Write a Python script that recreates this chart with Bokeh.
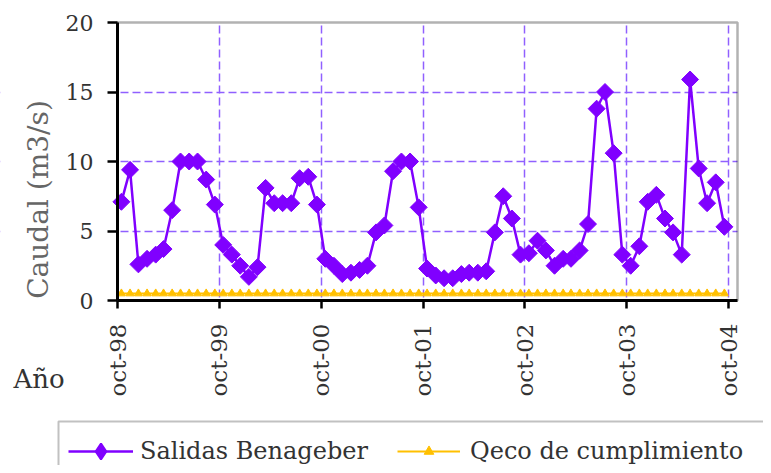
import math
from datetime import datetime

from bokeh.plotting import figure
from bokeh.models import (Range1d, FixedTicker, CustomJSTickFormatter, Legend,
                          LegendItem, Label, BoxAnnotation)
from bokeh.embed import file_html
from bokeh.resources import INLINE

# ---------------- data ----------------
# monthly values, oct-98 ... sep-04
salidas = [
    7.1, 9.4, 2.6, 3.0, 3.3, 3.7, 6.5, 10.0, 10.0, 10.0, 8.7, 6.9,   # oct-98 .. sep-99
    4.0, 3.3, 2.5, 1.7, 2.4, 8.1, 7.0, 7.0, 7.0, 8.8, 8.9, 6.9,      # oct-99 .. sep-00
    3.0, 2.5, 1.9, 2.0, 2.2, 2.5, 4.9, 5.4, 9.3, 10.0, 10.0, 6.7,    # oct-00 .. sep-01
    2.3, 1.8, 1.6, 1.6, 1.9, 2.0, 2.0, 2.1, 4.9, 7.5, 5.9, 3.3,      # oct-01 .. sep-02
    3.4, 4.3, 3.6, 2.5, 3.0, 3.0, 3.6, 5.5, 13.8, 15.0, 10.6, 3.3,   # oct-02 .. sep-03
    2.5, 3.9, 7.1, 7.6, 5.9, 4.9, 3.3, 15.9, 9.5, 7.0, 8.5, 5.3,     # oct-03 .. sep-04
]
qeco = [
    0.5, 0.5, 0.5, 0.5, 0.5, 0.5, 0.5, 0.5, 0.5, 0.5, 0.5, 0.5,
    0.5, 0.5, 0.5, 0.5, 0.5, 0.5, 0.5, 0.5, 0.5, 0.5, 0.5, 0.5,
    0.5, 0.5, 0.5, 0.5, 0.5, 0.5, 0.5, 0.5, 0.5, 0.5, 0.5, 0.5,
    0.5, 0.5, 0.5, 0.5, 0.5, 0.5, 0.5, 0.5, 0.5, 0.5, 0.5, 0.5,
    0.5, 0.5, 0.5, 0.5, 0.5, 0.5, 0.5, 0.5, 0.5, 0.5, 0.5, 0.5,
    0.5, 0.5, 0.5, 0.5, 0.5, 0.5, 0.5, 0.5, 0.5, 0.5, 0.5, 0.5,
]
tick_years = [1998, 1999, 2000, 2001, 2002, 2003, 2004]
tick_labels = ["oct-98", "oct-99", "oct-00", "oct-01", "oct-02", "oct-03", "oct-04"]
y_ticks = [0, 5, 10, 15, 20]
series_names = ["Salidas Benageber", "Qeco de cumplimiento"]
y_title = "Caudal (m3/s)"
x_title = "Año"

# month dates (mid-month), starting oct-98
dates = [datetime(1998 + (9 + i) // 12, (9 + i) % 12 + 1, 15) for i in range(len(salidas))]
EPOCH = datetime(1970, 1, 1)


def ms(d):
    return (d - EPOCH).total_seconds() * 1000.0


tick_ms = [ms(datetime(y, 10, 1)) for y in tick_years]
X0 = ms(datetime(1998, 10, 1))   # left edge of the plot area
X1 = ms(datetime(2004, 11, 1))   # right edge of the plot area
Y0, Y1 = 0, 20

# ---------------- layout (pixels) ----------------
W, H = 763, 465
AREA_L, AREA_R, AREA_T, AREA_B = 117, 737, 22, 300   # plot area in canvas pixels
kx = (X1 - X0) / (AREA_R - AREA_L)
ky = (Y1 - Y0) / (AREA_B - AREA_T)
LEG_L, LEG_T = 58, 421          # legend frame
LEG_MID = 451                   # vertical centre of the legend entries

PURPLE = "#8000ff"
GRID = "#9060ff"
YELLOW = "#ffc000"
SERIF = "DejaVu Serif"
TXT = "#333333"

p = figure(
    width=W, height=H,
    x_axis_type="datetime",
    x_range=Range1d(X0 - AREA_L * kx, X1 + (W - AREA_R) * kx),
    y_range=Range1d(Y0 - (H - AREA_B) * ky, Y1 + AREA_T * ky),
    output_backend="svg", toolbar_location=None,
    min_border=0, min_border_left=0, min_border_right=0,
    min_border_top=0, min_border_bottom=0,
)
p.background_fill_color = "white"
p.border_fill_color = "white"
p.outline_line_color = None

# grid
p.xgrid.ticker = FixedTicker(ticks=tick_ms[1:])
p.ygrid.ticker = FixedTicker(ticks=y_ticks[1:-1])
p.grid.grid_line_color = GRID
p.grid.grid_line_dash = "8 4"
p.grid.grid_line_width = 1.5

# white masks keep the grid inside the plot area
for kw in (dict(top=Y0), dict(bottom=Y1), dict(right=X0), dict(left=X1)):
    p.add_layout(BoxAnnotation(fill_color="white", fill_alpha=1.0,
                               line_color=None, level="underlay", **kw))

# axes placed on the plot-area edges
p.xaxis.fixed_location = Y0
p.xaxis.bounds = (X0, X1)
p.yaxis.fixed_location = X0
p.yaxis.bounds = (Y0, Y1)
p.xaxis.ticker = FixedTicker(ticks=tick_ms)
p.xaxis.formatter = CustomJSTickFormatter(args=dict(labels=tick_labels),
                                          code="return labels[index];")
p.xaxis.major_label_orientation = math.pi / 2
p.yaxis.ticker = FixedTicker(ticks=y_ticks)

for ax in (p.xaxis, p.yaxis):
    ax.axis_line_color = "black"
    ax.axis_line_width = 3
    ax.major_tick_line_color = "black"
    ax.major_tick_line_width = 2.5
    ax.major_tick_in = 0
    ax.minor_tick_line_color = None
    ax.major_label_text_font = SERIF
    ax.major_label_text_color = TXT

p.xaxis.major_tick_out = 8
p.xaxis.major_label_standoff = 15
p.xaxis.major_label_text_font_size = "23px"
p.yaxis.major_tick_out = 10
p.yaxis.major_label_standoff = 14
p.yaxis.major_label_text_font_size = "22px"

# series
l1 = p.line(dates, salidas, line_color=PURPLE, line_width=2.5)
# diamond key (used by the legend; fully covered by the rotated squares below)
key1 = p.scatter(dates, salidas, marker="diamond", size=12,
                 fill_color=PURPLE, line_color=PURPLE, line_width=2)
m1 = p.scatter(dates, salidas, marker="square", size=12, angle=math.pi / 4,
               fill_color=PURPLE, line_color=PURPLE)
l2 = p.line(dates, qeco, line_color=YELLOW, line_width=2)
m2 = p.scatter(dates, qeco, marker="triangle", size=8,
               fill_color=YELLOW, line_color=YELLOW)

# plot-area border
p.add_layout(BoxAnnotation(left=X0, right=X1, bottom=Y0, top=Y1,
                           fill_alpha=0.0, line_color="black", line_width=2.5))

# texts
p.add_layout(Label(x=38, y=H - 199, x_units="screen", y_units="screen",
                   text=y_title, angle=math.pi / 2,
                   text_align="center", text_baseline="middle",
                   text_font=SERIF, text_font_size="28px", text_color="#666666"))
p.add_layout(Label(x=13, y=H - 378, x_units="screen", y_units="screen",
                   text=x_title, text_align="left", text_baseline="alphabetic",
                   text_font=SERIF, text_font_size="26px", text_color=TXT))

common = dict(orientation="horizontal", margin=0, padding=0,
              border_line_color=None, background_fill_alpha=0.0,
              label_text_font=SERIF, label_text_font_size="24px",
              label_text_color=TXT)
# entry 1: item height 40 -> bottom = mid + 20
legend1 = Legend(items=[LegendItem(label=series_names[0], renderers=[l1, key1])],
                 location=(68, H - (LEG_MID + 20)), glyph_width=65,
                 glyph_height=40, label_height=40, label_standoff=7, **common)
# entry 2: item height ~28 (text) -> bottom = mid + 14
legend2 = Legend(items=[LegendItem(label=series_names[1], renderers=[l2, m2])],
                 location=(397, H - (LEG_MID + 14)), glyph_width=63,
                 glyph_height=24, label_height=24, label_standoff=10, **common)
p.add_layout(legend1)
p.add_layout(legend2)
# one frame around both legend entries
p.add_layout(BoxAnnotation(left=LEG_L, right=W + 20, top=H - LEG_T, bottom=-20,
                           left_units="screen", right_units="screen",
                           top_units="screen", bottom_units="screen",
                           fill_alpha=0.0, line_color=TXT, line_width=2))

open("out.html", "w").write(file_html(p, INLINE))
